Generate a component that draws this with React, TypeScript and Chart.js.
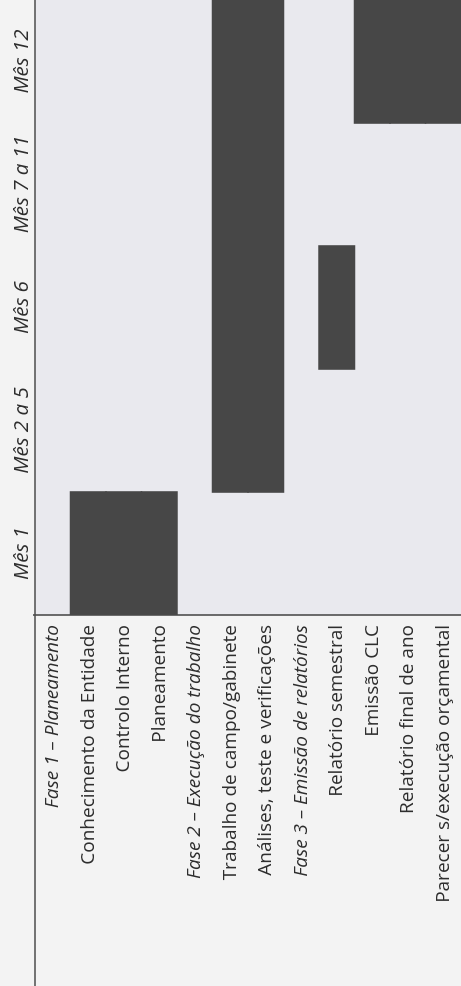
import React, { useEffect, useRef } from 'react';
import { Chart, registerables } from 'chart.js';

Chart.register(...registerables);

const categories = [
  'Fase 1 – Planeamento',
  'Conhecimento da Entidade',
  'Controlo Interno',
  'Planeamento',
  'Fase 2 – Execução do trabalho',
  'Trabalho de campo/gabinete',
  'Análises, teste e verificações',
  'Fase 3 – Emissão de relatórios',
  'Relatório semestral',
  'Emissão CLC',
  'Relatório final de ano',
  'Parecer s/execução orçamental',
];
const phaseRows = [0, 4, 7];
const periodLabels = ['Mês 1', 'Mês 2 a 5', 'Mês 6', 'Mês 7 a 11', 'Mês 12'];
// period index where each task starts / ends (null = no bar)
const taskStart: (number | null)[] = [null, 0, 0, 0, null, 1, 1, null, 2, 4, 4, 4];
const taskEnd: (number | null)[] = [null, 1, 1, 1, null, 5, 5, null, 3, 5, 5, 5];

const PAGE_W = 461;
const PAGE_H = 986;

const framePlugin = {
  id: 'frame',
  beforeDraw(chart: any) {
    const { ctx, chartArea: a, width, height } = chart;
    ctx.save();
    ctx.fillStyle = '#f3f3f3';
    ctx.fillRect(0, 0, width, height);
    ctx.fillStyle = '#e9e9ee';
    ctx.fillRect(a.left, a.top, a.right - a.left, a.bottom - a.top);
    ctx.restore();
  },
  afterDraw(chart: any) {
    const { ctx, chartArea: a } = chart;
    ctx.save();
    ctx.strokeStyle = '#4a4a4a';
    ctx.lineWidth = 1.6;
    ctx.beginPath();
    ctx.moveTo(0, a.top);
    ctx.lineTo(a.right, a.top);
    ctx.stroke();
    ctx.beginPath();
    ctx.moveTo(a.left, a.top - 2);
    ctx.lineTo(a.left, a.bottom);
    ctx.stroke();
    ctx.restore();
  },
};

export default function App() {
  const ref = useRef<HTMLCanvasElement | null>(null);

  useEffect(() => {
    if (!ref.current) return;
    const chart = new Chart(ref.current, {
      type: 'bar',
      data: {
        labels: categories,
        datasets: [
          {
            data: categories.map((_, i) =>
              taskStart[i] == null ? null : [taskStart[i] as number, taskEnd[i] as number]
            ) as any,
            backgroundColor: '#474747',
            borderWidth: 0,
            barPercentage: 1,
            categoryPercentage: 1,
            borderSkipped: false,
            inflateAmount: 0.8,
          },
        ],
      },
      options: {
        indexAxis: 'y',
        responsive: false,
        animation: false,
        layout: { padding: 0 },
        plugins: { legend: { display: false }, tooltip: { enabled: false } },
        scales: {
          x: {
            type: 'linear',
            position: 'top',
            min: 0,
            max: 5,
            afterBuildTicks: (axis: any) => {
              axis.ticks = periodLabels.map((_, i) => ({ value: i + 0.5 }));
            },
            afterFit: (axis: any) => {
              axis.height = 35;
              axis.paddingLeft = 0;
              axis.paddingRight = 0;
            },
            grid: { display: false, drawTicks: false },
            border: { display: false },
            ticks: {
              padding: 1,
              color: '#2e2e2e',
              autoSkip: false,
              maxRotation: 0,
              font: { family: 'Open Sans', size: 20.5, style: 'italic' },
              callback: (v: any) => periodLabels[Math.floor(Number(v))],
            },
          },
          y: {
            type: 'category',
            position: 'left',
            offset: true,
            afterFit: (axis: any) => {
              axis.width = 371;
              axis.paddingTop = 0;
              axis.paddingBottom = 0;
            },
            grid: { display: false, drawTicks: false },
            border: { display: false },
            ticks: {
              padding: 10,
              color: '#2e2e2e',
              autoSkip: false,
              font: (c: any) => ({
                family: 'Open Sans',
                size: 19,
                style: phaseRows.includes(c.index) ? 'italic' : 'normal',
              }),
            },
          },
        },
      } as any,
      plugins: [framePlugin],
    });
    return () => chart.destroy();
  }, []);

  return (
    <div
      style={{
        position: 'fixed',
        left: 0,
        top: 0,
        width: PAGE_W,
        height: PAGE_H,
        overflow: 'hidden',
        background: '#f3f3f3',
      }}
    >
      <div
        style={{
          position: 'absolute',
          left: 0,
          top: 0,
          width: PAGE_H,
          height: PAGE_W,
          transformOrigin: '0 0',
          transform: `translateY(${PAGE_H}px) rotate(-90deg)`,
        }}
      >
        <canvas ref={ref} width={PAGE_H} height={PAGE_W} style={{ display: 'block' }} />
      </div>
    </div>
  );
}
